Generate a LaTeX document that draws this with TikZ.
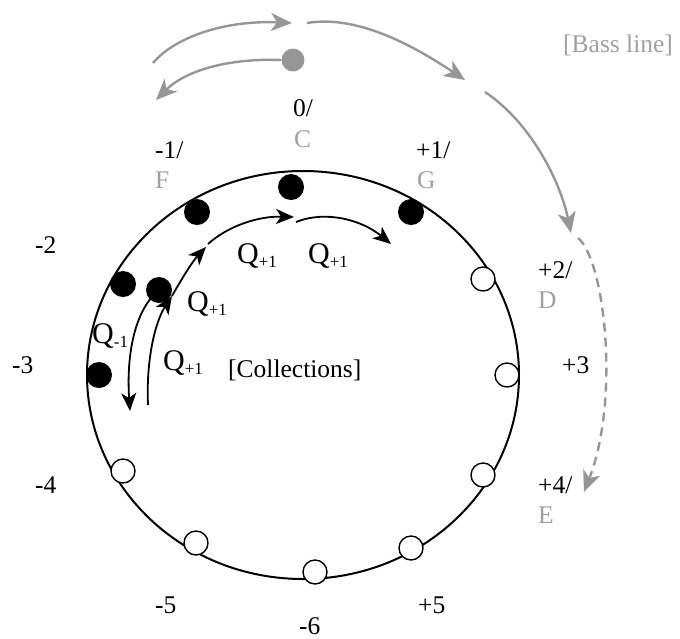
\documentclass[tikz,border=0pt]{standalone}
\usepackage{fontspec}
\setmainfont{Liberation Serif}
\usetikzlibrary{arrows.meta}
\definecolor{bassgray}{RGB}{150,150,150}
\definecolor{notegray}{RGB}{160,160,160}
\newcommand{\qlab}[1]{{\fontsize{30}{36}\selectfont Q}\raisebox{-4pt}{\fontsize{17}{20}\selectfont #1}}
\tikzset{
  full/.style={circle,fill=black,inner sep=0pt,minimum size=26pt},
  empty/.style={circle,draw=black,line width=1.4pt,fill=white,inner sep=0pt,minimum size=24pt},
  basedot/.style={circle,fill=bassgray,inner sep=0pt,minimum size=23pt},
  lbl/.style={anchor=base west,inner sep=0pt,font=\fontsize{25.5}{30}\selectfont},
  glbl/.style={lbl,text=notegray},
  qarrow/.style={line width=1.8pt,-{Stealth[length=18pt,width=15pt,inset=5pt]}},
  barrow/.style={draw=bassgray,line width=2.4pt,-{Stealth[length=21pt,width=18pt,inset=6pt]}},
}
\begin{document}
\begin{tikzpicture}[x=1pt,y=-1pt]
\useasboundingbox (0,0) rectangle (680,638);
% circle of fifths
\draw[line width=2pt] (303,375) ellipse [x radius=216pt, y radius=204pt];
% collection dots
\node[full] (n0) at (291,187) {};
\node[full] (p1) at (411,212) {};
\node[full] (m1) at (197,212) {};
\node[full] (m2) at (123,284) {};
\node[full] (in) at (159,290) {};
\node[full] (m3) at (99,375) {};
\node[empty] (p2) at (483,279) {};
\node[empty] (p3) at (507,375) {};
\node[empty] (p4) at (483,475) {};
\node[empty] (m4) at (123,471) {};
\node[empty] (m5) at (196,543) {};
\node[empty] (m6) at (315,572) {};
\node[empty] (p5) at (411,548) {};
% bass dot
\node[basedot] (bd) at (293,60) {};
% labels
\node[lbl] (l0) at (293,116) {0/};
\node[glbl] (lc) at (294,147) {C};
\node[lbl] (lm1) at (155,158) {-1/};
\node[glbl] (lf) at (155,188) {F};
\node[lbl] (lp1) at (416,158) {+1/};
\node[glbl] (lg) at (417,188) {G};
\node[lbl] (lm2) at (35,253) {-2};
\node[lbl] (lp2) at (538,278) {+2/};
\node[glbl] (ld) at (538,308) {D};
\node[lbl] (lm3) at (12,373) {-3};
\node[lbl] (lp3) at (562,373) {+3};
\node[lbl] (lm4) at (35,493) {-4};
\node[lbl] (lp4) at (538,493) {+4/};
\node[glbl] (le) at (538,523) {E};
\node[lbl] (lm5) at (155,613) {-5};
\node[lbl] (lm6) at (299,634) {-6};
\node[lbl] (lp5) at (418,613) {+5};
\node[lbl] (coll) at (228,377) {[Collections]};
\node[glbl] (bass) at (563,52) {[Bass line]};
% Q labels
\node[lbl] (qc) at (237,263) {\qlab{+1}};
\node[lbl] (qd) at (308,263) {\qlab{+1}};
\node[lbl] (qb) at (187,311) {\qlab{+1}};
\node[lbl] (qm) at (92,343) {\qlab{-1}};
\node[lbl] (qa) at (163,370) {\qlab{+1}};
% Q arrow end points
\coordinate (a0) at (148,405);
\coordinate (a1) at (172,296);
\coordinate (b1) at (206,247);
\coordinate (c0) at (208,244);
\coordinate (c1) at (294,217);
\coordinate (d0) at (296,222);
\coordinate (d1) at (391,244);
\coordinate (e0) at (157,292);
\coordinate (e1) at (130,411);
\draw[qarrow] (a0) .. controls (146,360) and (155,322) .. (a1);
\draw[qarrow] (a1) .. controls (181,280) and (192,262) .. (b1);
\draw[qarrow] (c0) .. controls (228,226) and (258,216) .. (c1);
\draw[qarrow] (d0) .. controls (326,210) and (362,220) .. (d1);
\draw[qarrow] (e0) .. controls (136,310) and (126,352) .. (e1);
% bass line arrows
\coordinate (ga0) at (153,63);
\coordinate (ga1) at (292,23);
\coordinate (gc0) at (307,23);
\coordinate (gc1) at (465,80);
\coordinate (gd0) at (485,92);
\coordinate (gd1) at (571,233);
\coordinate (ge0) at (578,238);
\coordinate (ge1) at (584,492);
\coordinate (gb1) at (156,100);
\draw[barrow] (ga0) .. controls (175,37) and (225,20) .. (ga1);
\draw[barrow] (bd.west) .. controls (230,58) and (186,70) .. (gb1);
\draw[barrow] (gc0) .. controls (360,14) and (420,50) .. (gc1);
\draw[barrow] (gd0) .. controls (530,122) and (560,180) .. (gd1);
\draw[barrow,dash pattern=on 9pt off 6pt] (ge0) .. controls (605,260) and (620,400) .. (ge1);
\end{tikzpicture}
\end{document}
